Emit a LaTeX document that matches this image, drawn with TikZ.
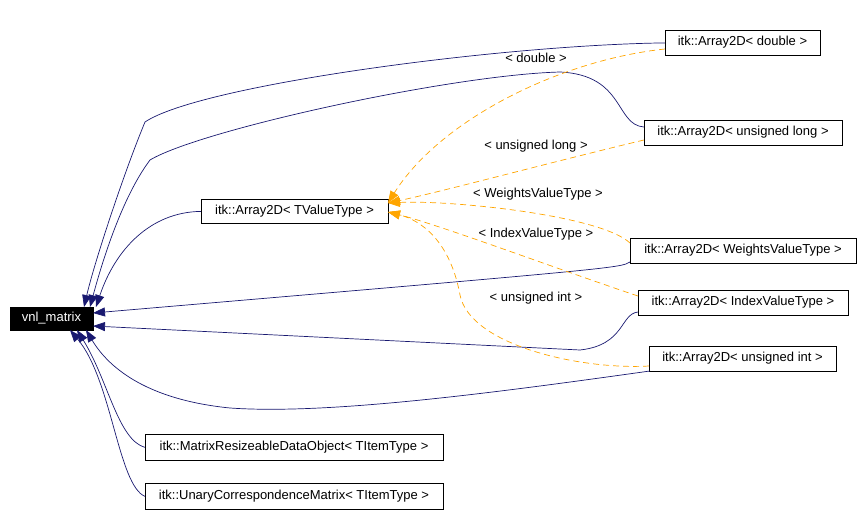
\documentclass[tikz,border=0pt]{standalone}
\usepackage{fontspec}
\setmainfont{Liberation Sans}
\usetikzlibrary{arrows.meta}
\definecolor{navy}{HTML}{191970}
\definecolor{orng}{HTML}{FFA500}
\begin{document}
\begin{tikzpicture}[x=1pt,y=-1pt,
  cls/.style={draw=black,line width=0.8pt,fill=white,inner sep=0pt,anchor=north west},
  txt/.style={font=\fontsize{13}{15}\selectfont,inner sep=0pt},
  inh/.style={draw=navy,line width=0.7pt,-{Triangle[length=12pt,width=9pt]}},
  tpl/.style={draw=orng,line width=0.7pt,dash pattern=on 6pt off 4pt,-{Triangle[length=12pt,width=9pt,fill=orng]}},
  lbl/.style={font=\fontsize{13}{15}\selectfont,inner sep=0pt}]
\useasboundingbox (0,0) rectangle (863,516);
% nodes
\node[cls,fill=black,minimum width=83pt,minimum height=23pt] (vnl) at (10,307) {};
\node[txt,text=white] at (51.5,318.5) {vnl\_matrix};
\node[cls,minimum width=187pt,minimum height=24pt] (tv) at (201,199) {};
\node[txt] at (294.5,211) {itk::Array2D< TValueType >};
\node[cls,minimum width=155pt,minimum height=25pt] (dbl) at (665,30) {};
\node[txt] at (742.5,42.5) {itk::Array2D< double >};
\node[cls,minimum width=198pt,minimum height=25pt] (ul) at (644,120) {};
\node[txt] at (743,132.5) {itk::Array2D< unsigned long >};
\node[cls,minimum width=226pt,minimum height=25pt] (wv) at (630,238) {};
\node[txt] at (743,250.5) {itk::Array2D< WeightsValueType >};
\node[cls,minimum width=210pt,minimum height=25pt] (iv) at (638,290) {};
\node[txt] at (743,302.5) {itk::Array2D< IndexValueType >};
\node[cls,minimum width=187pt,minimum height=25pt] (ui) at (649,346) {};
\node[txt] at (742.5,358.5) {itk::Array2D< unsigned int >};
\node[cls,minimum width=298pt,minimum height=26pt] (mr) at (145,434) {};
\node[txt] at (294,447) {itk::MatrixResizeableDataObject< TItemType >};
\node[cls,minimum width=298pt,minimum height=26pt] (uc) at (145,483) {};
\node[txt] at (294,496) {itk::UnaryCorrespondenceMatrix< TItemType >};
% coordinates on vnl_matrix
\coordinate (t1) at (84,307);
\coordinate (t2) at (90,307);
\coordinate (t3) at (96,307);
\coordinate (r1) at (93,313);
\coordinate (r2) at (93,326);
\coordinate (b1) at (70,330);
\coordinate (b2) at (77,330);
\coordinate (b3) at (86,330);
% inheritance edges
\draw[inh] (dbl.west) .. controls (500,45) and (200,85) .. (145,122) .. controls (125,170) and (95,260) .. (t1);
\draw[inh] (644,127) .. controls (615,125) and (625,75) .. (560,72) .. controls (450,75) and (200,130) .. (150,160) .. controls (120,200) and (100,270) .. (t2);
\draw[inh] (tv.west) .. controls (150,212) and (115,250) .. (t3);
\draw[inh] (630,262) .. controls (620,268) .. (r1);
\draw[inh] (638,312) .. controls (620,314) and (625,345) .. (580,350) -- (r2);
\draw[inh] (650,371) .. controls (500,392) and (330,415) .. (230,408) .. controls (150,400) and (110,370) .. (b3);
\draw[inh] (mr.west) .. controls (118,440) and (108,380) .. (b2);
\draw[inh] (uc.west) .. controls (118,485) and (112,380) .. (b1);
% template edges
\coordinate (ta) at (388,203);
\coordinate (tb) at (388,212);
\draw[tpl] (665,49) .. controls (560,60) and (440,120) .. (ta);
\draw[tpl] (644,140) .. controls (560,160) and (440,192) .. (ta);
\draw[tpl] (630,243) .. controls (600,215) and (450,200) .. (ta);
\draw[tpl] (638,296) .. controls (560,270) and (440,225) .. (tb);
\draw[tpl] (649,366) .. controls (580,370) and (470,345) .. (460,295) .. controls (450,240) and (420,220) .. (tb);
% labels
\node[lbl] at (536,58) {< double >};
\node[lbl] at (536,146) {< unsigned long >};
\node[lbl] at (538,194) {< WeightsValueType >};
\node[lbl] at (536,234) {< IndexValueType >};
\node[lbl] at (536,298) {< unsigned int >};
\end{tikzpicture}
\end{document}
